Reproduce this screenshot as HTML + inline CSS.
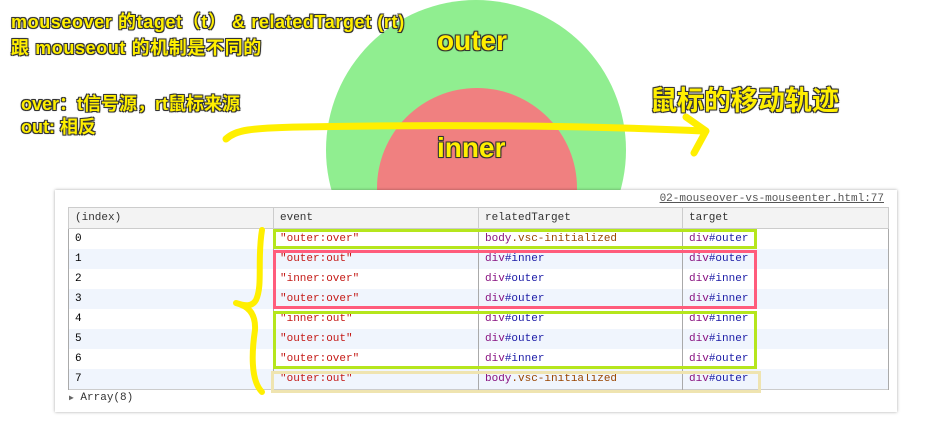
<!DOCTYPE html>
<html><head><meta charset="utf-8"><style>
body{margin:0;width:942px;height:431px;background:#fff;position:relative;overflow:hidden;font-family:"Liberation Sans","Noto Sans CJK SC",sans-serif}
.circ{position:absolute;border-radius:50%}
.lbl{position:absolute;font-weight:bold;color:#ffef00;text-shadow:-1px -1px 0 #333,1px -1px 0 #333,-1px 1px 0 #333,1px 1px 0 #333,0 0 2px #000;white-space:nowrap}
.panel{position:absolute;left:55px;top:190px;width:842px;height:222px;background:#fff;box-shadow:0 0 3px rgba(0,0,0,.35)}
.mono{font-family:"Liberation Mono","DejaVu Sans Mono",monospace;font-size:11px}
table{position:absolute;left:13px;top:17px;width:821px;border-collapse:collapse;border:1px solid #ccc}
td{height:20px;padding:0 0 0 6px;border-left:1px solid #aaa;border-right:1px solid #aaa;white-space:nowrap}
tr.h td{background:#f3f3f3;border:1px solid #ccc;height:20px;color:#333}
tr:nth-child(odd):not(.h) td{background:#f0f5fd}
.s{color:#c41a16}.t{color:#881280}.a{color:#1a1aa6}.c{color:#994500}
.box{position:absolute;border:3px solid}
</style></head><body>
<div class="circ" style="left:326px;top:0;width:300px;height:300px;background:#90ee90"></div>
<div class="circ" style="left:377px;top:88px;width:200px;height:200px;background:#f08080"></div>
<div class="lbl" style="left:437px;top:25px;font-size:28px">outer</div>
<div class="lbl" style="left:437px;top:132px;font-size:28px">inner</div>
<div class="lbl" style="left:11px;top:9px;font-size:18px;line-height:26px;letter-spacing:0.6px">mouseover 的taget（t） &amp; relatedTarget (rt)<br>跟 mouseout 的机制是不同的</div>
<div class="lbl" style="left:21px;top:93px;font-size:18px;line-height:23px">over：t信号源，rt鼠标来源<br>out: 相反</div>
<div class="lbl" style="left:650px;top:79px;font-size:27px">鼠标的移动轨迹</div>
<svg width="942" height="431" style="position:absolute;left:0;top:0">
<path d="M226,139 C236,130 250,128 300,127 C450,124 600,126 703,131" stroke="#ffef00" stroke-width="7" fill="none" stroke-linecap="round"/>
<path d="M686,117 L706,131 L694,153" stroke="#ffef00" stroke-width="7" fill="none" stroke-linecap="round" stroke-linejoin="round"/>
</svg>
<div class="panel">
<div class="mono" style="position:absolute;right:13px;top:3px;color:#555;text-decoration:underline">02-mouseover-vs-mouseenter.html:77</div>
<table class="mono">
<tr class="h"><td style="width:198px">(index)</td><td style="width:198px">event</td><td style="width:197px">relatedTarget</td><td>target</td></tr>
<tr><td>0</td><td class="s">"outer:over"</td><td><span class="t">body</span><span class="c">.vsc-initialized</span></td><td><span class="t">div</span><span class="a">#outer</span></td></tr>
<tr><td>1</td><td class="s">"outer:out"</td><td><span class="t">div</span><span class="a">#inner</span></td><td><span class="t">div</span><span class="a">#outer</span></td></tr>
<tr><td>2</td><td class="s">"inner:over"</td><td><span class="t">div</span><span class="a">#outer</span></td><td><span class="t">div</span><span class="a">#inner</span></td></tr>
<tr><td>3</td><td class="s">"outer:over"</td><td><span class="t">div</span><span class="a">#outer</span></td><td><span class="t">div</span><span class="a">#inner</span></td></tr>
<tr><td>4</td><td class="s">"inner:out"</td><td><span class="t">div</span><span class="a">#outer</span></td><td><span class="t">div</span><span class="a">#inner</span></td></tr>
<tr><td>5</td><td class="s">"outer:out"</td><td><span class="t">div</span><span class="a">#outer</span></td><td><span class="t">div</span><span class="a">#inner</span></td></tr>
<tr><td>6</td><td class="s">"outer:over"</td><td><span class="t">div</span><span class="a">#inner</span></td><td><span class="t">div</span><span class="a">#outer</span></td></tr>
<tr><td>7</td><td class="s">"outer:out"</td><td><span class="t">body</span><span class="c">.vsc-initialized</span></td><td><span class="t">div</span><span class="a">#outer</span></td></tr>
</table>
<div class="mono" style="position:absolute;left:14px;top:202px;color:#333"><span style="font-size:8px;color:#666">▶</span> Array(8)</div>
</div>
<div class="box" style="left:273px;top:229px;width:478px;height:14px;border-color:#b5e61d"></div>
<div class="box" style="left:273px;top:250px;width:478px;height:53px;border-color:#ff5c7c"></div>
<div class="box" style="left:273px;top:311px;width:478px;height:52px;border-color:#b5e61d"></div>
<div class="box" style="left:271px;top:371px;width:484px;height:16px;border-color:#efe4b0"></div>
<svg width="942" height="431" style="position:absolute;left:0;top:0">
<path d="M262,230 C257,260 263,285 256,300 C252,307 245,306 236,303 C247,306 256,312 255,330 C252,350 250,380 262,392" stroke="#ffef00" stroke-width="6" fill="none" stroke-linecap="round" stroke-linejoin="round"/>
</svg>
</body></html>
